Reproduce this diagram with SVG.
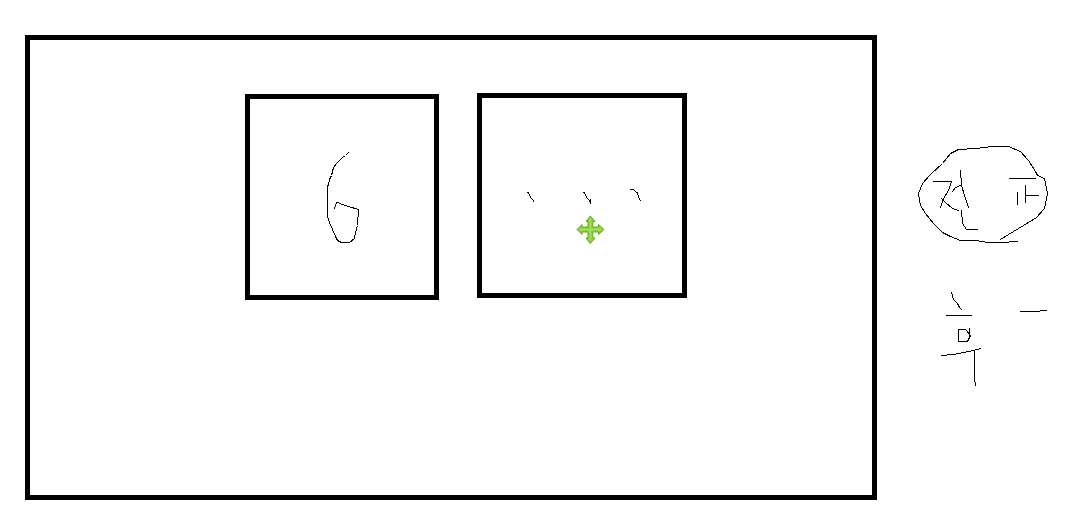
<svg xmlns="http://www.w3.org/2000/svg" width="1076" height="527" viewBox="0 0 1076 527">
<style>
.box{fill:none;stroke:#000;stroke-width:5;shape-rendering:crispEdges}
.ink{fill:none;stroke:#000;stroke-width:1;stroke-linejoin:round;stroke-linecap:square;shape-rendering:crispEdges}
</style>
<rect width="1076" height="527" fill="#fff"/>
<g id="outer-frame"><rect class="box" x="27.5" y="37.5" width="847" height="460"/></g>
<g id="left-panel">
<rect class="box" x="247.5" y="96.5" width="189" height="201"/>
<path class="ink" d="M348.5 152.5L345.5 155.5L342.5 157.5L339.5 160.5L336.5 163.5L333.5 167.5L332.5 171.5L331.5 175.5L329.5 179.5L328.5 184.5L327.5 186.5L327.5 216.5L329.5 222.5L332.5 229.5L335.5 236.5L337.5 240.5L341.5 242.5L349.5 242.5L354.5 238.5L355.5 232.5L357.5 225.5L358.5 209.5L348.5 206.5L339.5 203.5L338.5 202.5L336.5 202.5L334.5 208.5"/>
</g>
<g id="right-panel">
<rect class="box" x="479.5" y="95.5" width="205" height="200"/>
<path class="ink" d="M527.5 192.5L528.5 192.5L529.5 195.5L531.5 198.5L533.5 200.5L533.5 201.5"/>
<path class="ink" d="M583.5 192.5L584.5 192.5L585.5 195.5L587.5 198.5L589.5 200.5L590.5 203.5M590.5 199.5L590.5 203.5"/>
<path class="ink" d="M630.5 189.5L633.5 189.5L635.5 191.5L636.5 192.5L637.5 192.5L638.5 197.5L640.5 200.5"/>
<g id="move-cursor">
<path d="M590.3 216L595 221.5L592.8 221.5L592.8 227L598.5 227L598.5 224.5L604 229.5L598.5 234.5L598.5 232L592.8 232L592.8 238L595 238L590.3 243.5L586 238L588 238L588 232L582 232L582 234.5L577 229.5L582 224.5L582 227L588 227L588 221.5L586 221.5Z" fill="#8fd03c" stroke="#63a821" stroke-width="1"/>
<path d="M590.3 219V240M580 229.5H601" stroke="#a6de5e" stroke-width="1.5" fill="none"/>
</g>
</g>
<g id="note-circled">
<path class="ink" d="M1000.5 239.5L1008.5 234.5L1013.5 231.5L1023.5 225.5L1036.5 217.5L1044.5 208.5L1047.5 193.5L1044.5 178.5L1037.5 175.5L1035.5 171.5L1028.5 160.5L1020.5 151.5L1008.5 146.5L992.5 146.5L975.5 148.5L958.5 149.5L950.5 153.5L942.5 163.5L930.5 174.5L922.5 183.5L918.5 193.5L920.5 205.5L925.5 213.5L933.5 223.5L942.5 232.5L950.5 236.5L960.5 240.5"/>
<path class="ink" d="M960.5 240.5L975.5 240.5L988.5 242.5L1000.5 242.5L1017.5 241.5"/>
<path class="ink" d="M933.5 181.5L951.5 181.5L948.5 190.5L943.5 198.5L940.5 207.5"/>
<path class="ink" d="M941.5 198.5L945.5 202.5L952.5 208.5L958.5 210.5"/>
<path class="ink" d="M960.5 170.5L961.5 185.5L965.5 198.5L968.5 207.5"/>
<path class="ink" d="M952.5 191.5L955.5 187.5L960.5 185.5"/>
<path class="ink" d="M961.5 210.5L962.5 223.5L966.5 229.5L977.5 229.5"/>
<path class="ink" d="M1009.5 178.5L1035.5 178.5"/>
<path class="ink" d="M1017.5 192.5L1017.5 204.5"/>
<path class="ink" d="M1025.5 185.5L1025.5 202.5M1025.5 195.5L1038.5 195.5"/>
</g>
<g id="note-lower">
<path class="ink" d="M951.5 292.5L953.5 299.5L957.5 303.5L959.5 307.5L961.5 309.5"/>
<path class="ink" d="M946.5 315.5L971.5 315.5"/>
<path class="ink" d="M958.5 329.5L965.5 329.5L970.5 335.5L967.5 341.5L958.5 341.5Z"/>
<path class="ink" d="M969.5 328.5L969.5 338.5"/>
<path class="ink" d="M941.5 355.5L953.5 354.5L973.5 350.5L980.5 348.5"/>
<path class="ink" d="M974.5 350.5L974.5 377.5L975.5 385.5"/>
<path class="ink" d="M1020.5 311.5L1033.5 311.5L1046.5 310.5"/>
</g>
<g id="connectors"/>
</svg>
